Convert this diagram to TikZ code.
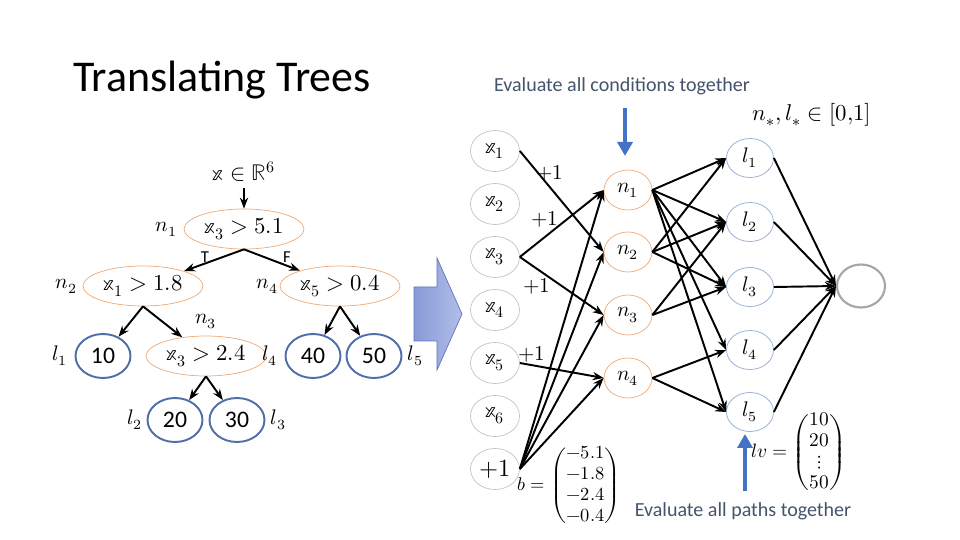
\documentclass[tikz,border=0pt]{standalone}
\usepackage{amsmath}
\usepackage{fontspec}
\usepackage{unicode-math}
\setmainfont{Carlito}
\usepackage{tikz}
\usepackage{xcolor}
\usetikzlibrary{shapes.geometric, arrows.meta, positioning}
\definecolor{condorange}{RGB}{240,170,120}
\definecolor{leafblue}{RGB}{80,110,168}
\definecolor{unitblue}{RGB}{143,170,210}
\definecolor{unitgray}{RGB}{195,195,195}
\definecolor{noteblue}{RGB}{68,84,106}
\definecolor{markblue}{RGB}{68,114,196}
\definecolor{blockleft}{RGB}{136,154,214}
\definecolor{blockright}{RGB}{178,190,232}
\definecolor{blockedge}{RGB}{96,116,188}
\newcommand{\vx}{\mathbb{x}}
\tikzstyle{cond}     = [ellipse, minimum width=2.4cm, minimum height=0.8cm, inner sep=0pt,
                        draw=condorange, font=\fontsize{13}{15}\selectfont]
\tikzstyle{leaf}     = [ellipse, minimum width=1.1cm, minimum height=0.88cm, inner sep=0pt,
                        draw=leafblue, line width=1.1pt, font=\fontsize{13.5}{15}\selectfont]
\tikzstyle{inunit}   = [ellipse, minimum width=0.98cm, minimum height=0.82cm, inner sep=0pt,
                        draw=unitgray, font=\fontsize{13}{15}\selectfont]
\tikzstyle{condunit} = [ellipse, minimum width=0.96cm, minimum height=0.8cm, inner sep=0pt,
                        draw=condorange, font=\fontsize{12}{14}\selectfont]
\tikzstyle{leafunit} = [ellipse, minimum width=0.94cm, minimum height=0.78cm, inner sep=0pt,
                        draw=unitblue, font=\fontsize{12}{14}\selectfont]
\tikzstyle{outunit}  = [ellipse, minimum width=0.96cm, minimum height=0.86cm, inner sep=0pt,
                        draw=black!35, line width=1.2pt]
\tikzstyle{tag}      = [inner sep=0pt, font=\fontsize{12}{14}\selectfont]
\tikzstyle{note}     = [inner sep=0pt, text=noteblue, font=\fontsize{11.4}{13}\selectfont]
\tikzstyle{arrow}    = [-{Stealth[length=2.2mm]}, line width=1.1pt]
\tikzstyle{pointer}  = [-{Triangle[length=2.8mm, width=3mm]}, line width=2.8pt, markblue]

\begin{document}
\begin{tikzpicture}[x=0.02cm, y=-0.02cm]
    \fill[white] (0,0) rectangle (960,540);
    \useasboundingbox (0,0) rectangle (960,540);

    % title
    \node (title) at (222,80) {\fontsize{25}{30}\selectfont Translating Trees};

    % the tree
    \node (xin) [font=\fontsize{13}{15}\selectfont] at (244,172) {$\vx\in\mathbb{R}^6$};
    \node (tn1) [cond] at (244,229) {$\vx_3>5.1$};
    \node (tn2) [cond] at (143,286) {$\vx_1>1.8$};
    \node (tn4) [cond] at (340,286) {$\vx_5>0.4$};
    \node (tn3) [cond] at (206,356) {$\vx_3>2.4$};
    \node (tl1) [leaf] at (103,356) {10};
    \node (tl4) [leaf] at (313,356) {40};
    \node (tl5) [leaf] at (374,356) {50};
    \node (tl2) [leaf] at (175,420) {20};
    \node (tl3) [leaf] at (237,420) {30};

    \node (tagn1) [tag, left=0.12cm of tn1] {$n_1$};
    \node (tagn2) [tag, left=0.1cm of tn2] {$n_2$};
    \node (tagn4) [tag, left=0.02cm of tn4] {$n_4$};
    \node (tagn3) [tag, above=0.13cm of tn3] {$n_3$};
    \node (tagl1) [tag, left=0.14cm of tl1] {$l_1$};
    \node (tagl4) [tag, left=0.14cm of tl4] {$l_4$};
    \node (tagl5) [tag, right=0.1cm of tl5] {$l_5$};
    \node (tagl2) [tag, left=0.08cm of tl2] {$l_2$};
    \node (tagl3) [tag, right=0.1cm of tl3] {$l_3$};
    \node (true) [font=\fontsize{9.5}{11}\selectfont] at (205,257) {T};
    \node (false) [font=\fontsize{9.5}{11}\selectfont] at (287,257) {F};

    \draw[arrow] (xin) -- (tn1);
    \draw[arrow] (tn1.south) -- (tn2);
    \draw[arrow] (tn1.south) -- (tn4);
    \draw[arrow] (tn2.south) -- (tl1);
    \draw[arrow] (tn2.south) -- (tn3);
    \draw[arrow] (tn4.south) -- (tl4);
    \draw[arrow] (tn4.south) -- (tl5);
    \draw[arrow] (tn3.south) -- (tl2);
    \draw[arrow] (tn3.south) -- (tl3);

    % translation arrow
    \shade[left color=blockleft, right color=blockright, draw=blockedge]
        (414,287) -- (437,287) -- (437,258) -- (462,314) -- (437,370)
        -- (437,341) -- (414,341) -- cycle;

    % the network
    \node (x1) [inunit] at (495,151) {$\vx_1$};
    \node (x2) [inunit] at (495,204) {$\vx_2$};
    \node (x3) [inunit] at (495,257) {$\vx_3$};
    \node (x4) [inunit] at (495,310) {$\vx_4$};
    \node (x5) [inunit] at (495,363) {$\vx_5$};
    \node (x6) [inunit] at (495,416) {$\vx_6$};
    \node (xb) [inunit, font=\fontsize{14}{16}\selectfont] at (495,469) {$+1$};
    \node (n1) [condunit] at (628,190) {$n_1$};
    \node (n2) [condunit] at (628,252) {$n_2$};
    \node (n3) [condunit] at (628,315) {$n_3$};
    \node (n4) [condunit] at (628,378) {$n_4$};
    \node (l1) [leafunit] at (750,158) {$l_1$};
    \node (l2) [leafunit] at (750,222) {$l_2$};
    \node (l3) [leafunit] at (750,287) {$l_3$};
    \node (l4) [leafunit] at (750,350) {$l_4$};
    \node (l5) [leafunit] at (750,412) {$l_5$};
    \node (out) [outunit] at (861,286) {};

    \draw[arrow] (x1.east) -- node[tag, pos=0.36, above=3pt] {$+1$} (n2.west);
    \draw[arrow] (x3.east) -- node[tag, pos=0.3, above=5pt] {$+1$} (n1.west);
    \draw[arrow] (x3.east) -- node[tag, pos=0.2, below=5pt] {$+1$} (n3.west);
    \draw[arrow] (x5.east) -- node[tag, pos=0.14, above=1pt] {$+1$} (n4.west);
    \draw[arrow] (xb.east) -- (n1.west);
    \draw[arrow] (xb.east) -- (n2.west);
    \draw[arrow] (xb.east) -- (n3.west);
    \draw[arrow] (xb.east) -- (n4.west);

    \draw[arrow] (n1.east) -- (l1.west);
    \draw[arrow] (n1.east) -- (l2.west);
    \draw[arrow] (n1.east) -- (l3.west);
    \draw[arrow] (n1.east) -- (l4.west);
    \draw[arrow] (n1.east) -- (l5.west);
    \draw[arrow] (n2.east) -- (l1.west);
    \draw[arrow] (n2.east) -- (l2.west);
    \draw[arrow] (n2.east) -- (l3.west);
    \draw[arrow] (n3.east) -- (l2.west);
    \draw[arrow] (n3.east) -- (l3.west);
    \draw[arrow] (n4.east) -- (l4.west);
    \draw[arrow] (n4.east) -- (l5.west);

    \draw[arrow] (l1.east) -- (out.west);
    \draw[arrow] (l2.east) -- (out.west);
    \draw[arrow] (l3.east) -- (out.west);
    \draw[arrow] (l4.east) -- (out.west);
    \draw[arrow] (l5.east) -- (out.west);

    % vectors and notes
    \node (bias) [font=\fontsize{10.5}{12}\selectfont] at (569,486)
        {$b=\begin{pmatrix}-5.1\\-1.8\\-2.4\\-0.4\end{pmatrix}$};
    \node (leafval) [font=\fontsize{11}{12}\selectfont] at (799,453)
        {$lv=\begin{pmatrix}10\\20\\ \vdots\\50\end{pmatrix}$};
    \node (range) [font=\fontsize{13}{15}\selectfont] at (812,115) {$n_*,l_*\in[0{,}1]$};
    \node (condnote) [note] at (622,86) {Evaluate all conditions together};
    \node (pathnote) [note] at (743,511) {Evaluate all paths together};

    \coordinate (downtop) at (625,108);
    \coordinate (downtip) at (625,156);
    \coordinate (uptop) at (745,434);
    \coordinate (upfoot) at (745,491);
    \draw[pointer] (downtop) -- (downtip);
    \draw[pointer] (upfoot) -- (uptop);
\end{tikzpicture}
\end{document}
